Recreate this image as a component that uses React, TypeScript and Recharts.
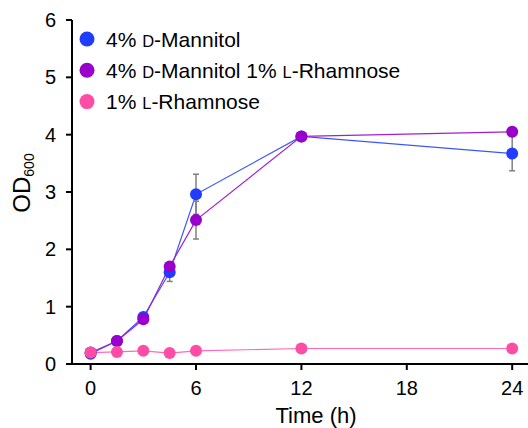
import React from 'react';
import { LineChart, Line, XAxis, YAxis, ErrorBar } from 'recharts';

// Sampling times (h)
const timeHours = [0, 1.5, 3, 4.5, 6, 12, 24];

// OD600 means and standard deviations per medium
const mannitolOD = [0.18, 0.4, 0.82, 1.6, 2.96, 3.97, 3.67];
const mannitolErr = [0.03, 0.05, 0.06, 0.16, 0.35, 0.05, 0.3];
const mixOD = [0.2, 0.4, 0.78, 1.7, 2.51, 3.97, 4.05];
const mixErr = [0.02, 0.05, 0.05, 0.06, 0.33, 0.06, 0.04];
const rhamnoseOD = [0.2, 0.21, 0.23, 0.19, 0.23, 0.27, 0.27];
const rhamnoseErr = [0.01, 0.01, 0.01, 0.01, 0.01, 0.01, 0.01];

const xTicks = [0, 6, 12, 18, 24];
const yTicks = [0, 1, 2, 3, 4, 5, 6];

const seriesNames = ['4% D-Mannitol', '4% D-Mannitol 1% L-Rhamnose', '1% L-Rhamnose'];
const dotColors = ['#1f3cff', '#9900cc', '#ff4da6'];
const lineColors = ['#3a55ff', '#a020d0', '#ff6ab8'];

const data = timeHours.map((t, i) => ({
  t,
  man: mannitolOD[i],
  manErr: mannitolErr[i],
  mix: mixOD[i],
  mixErr: mixErr[i],
  rha: rhamnoseOD[i],
  rhaErr: rhamnoseErr[i],
}));

const FONT = '"Liberation Sans", Arial, Helvetica, sans-serif';

// Render the D-/L- stereo prefixes in small capitals
function renderName(name: string) {
  const parts = name.split(/(\b[DL](?=-))/g);
  return parts.map((p, i) =>
    p === 'D' || p === 'L' ? (
      <tspan key={i} fontSize={16.5}>
        {p}
      </tspan>
    ) : (
      <tspan key={i}>{p}</tspan>
    )
  );
}

const YTitle = (props: any) => {
  const vb = props.viewBox || { x: 0, y: 20, width: 72, height: 344 };
  const cx = vb.x + 29.5;
  const cy = vb.y + 163;
  return (
    <text
      x={cx}
      y={cy}
      transform={`rotate(-90, ${cx}, ${cy})`}
      textAnchor="middle"
      fontFamily={FONT}
      fontSize={24}
      fill="#000"
    >
      OD
      <tspan fontSize={14} dy={4}>
        600
      </tspan>
    </text>
  );
};

const XTitle = (props: any) => {
  const vb = props.viewBox || { x: 72, y: 364, width: 456, height: 64 };
  return (
    <text
      x={vb.x + vb.width / 2 + 16}
      y={vb.y + 59}
      textAnchor="middle"
      fontFamily={FONT}
      fontSize={22}
      fill="#000"
    >
      Time (h)
    </text>
  );
};

const tickStyle = { fill: '#000', fontSize: 20, fontFamily: FONT };

export default function App() {
  const keys = ['man', 'mix', 'rha'];
  const errKeys = ['manErr', 'mixErr', 'rhaErr'];
  return (
    <div style={{ position: 'absolute', left: 0, top: 0, width: 528, height: 428 }}>
      <LineChart
        width={528}
        height={428}
        data={data}
        margin={{ top: 20, right: 0, bottom: 0, left: 0 }}
      >
        <XAxis
          type="number"
          dataKey="t"
          domain={[-1.06, 24.9]}
          allowDataOverflow
          ticks={xTicks}
          interval={0}
          height={64}
          tickSize={6}
          tickMargin={11}
          tick={tickStyle}
          axisLine={{ stroke: '#000', strokeWidth: 2 }}
          tickLine={{ stroke: '#000', strokeWidth: 2 }}
          label={{ content: XTitle }}
        />
        <YAxis
          type="number"
          domain={[0, 6]}
          allowDataOverflow
          ticks={yTicks}
          interval={0}
          width={72}
          tickSize={6}
          tickMargin={10}
          tick={tickStyle}
          axisLine={{ stroke: '#000', strokeWidth: 2 }}
          tickLine={{ stroke: '#000', strokeWidth: 2 }}
          label={{ content: YTitle }}
        />
        {keys.map((k, i) => (
          <Line
            key={k}
            type="linear"
            dataKey={k}
            name={seriesNames[i]}
            stroke={lineColors[i]}
            strokeWidth={1.2}
            isAnimationActive={false}
            dot={{ r: 6, fill: dotColors[i], stroke: dotColors[i], strokeWidth: 0, fillOpacity: 1 }}
            activeDot={false}
          >
            <ErrorBar
              dataKey={errKeys[i]}
              direction="y"
              width={3}
              stroke="#808080"
              strokeWidth={1.5}
              isAnimationActive={false}
            />
          </Line>
        ))}
      </LineChart>
      <svg
        width={528}
        height={130}
        style={{ position: 'absolute', left: 0, top: 0, pointerEvents: 'none' }}
      >
        {seriesNames.map((name, i) => {
          const cy = 39 + i * 31.3;
          return (
            <g key={name}>
              <circle cx={87} cy={cy} r={7.5} fill={dotColors[i]} />
              <text x={106} y={cy + 7.5} fontFamily={FONT} fontSize={21} fill="#000">
                {renderName(name)}
              </text>
            </g>
          );
        })}
      </svg>
    </div>
  );
}
